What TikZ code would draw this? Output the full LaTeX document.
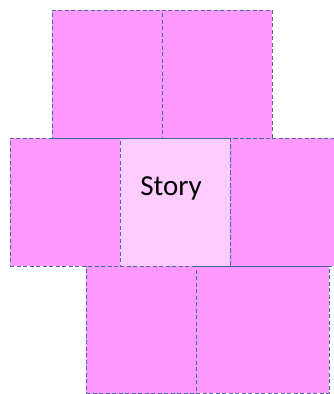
\documentclass[tikz,border=0pt]{standalone}
\usepackage{fontspec}
\setmainfont{Carlito}
\definecolor{pinkA}{HTML}{FF99FF}
\definecolor{pinkB}{HTML}{FFCCFF}
\definecolor{edgeC}{HTML}{4A6A9A}
\begin{document}
\begin{tikzpicture}[x=1pt,y=-1pt,
  cell/.style={rectangle,fill=pinkA,draw=edgeC,line width=0.9pt,dash pattern=on 4pt off 2.5pt,
    inner sep=0pt,outer sep=0pt,minimum width=110pt,minimum height=128pt},
  storycell/.style={cell,fill=pinkB}]
\useasboundingbox (0,0) rectangle (334,394);
\begin{scope}
\clip (0,0) rectangle (334,394);
% bottom row
\node[cell] (b1) at (141,329.5) {};
\node[cell,minimum width=133pt,minimum height=127pt] (b2) at (262.5,329.5) {};
% middle row
\node[cell] (m1) at (65,202) {};
\node[cell,minimum width=115pt] (m3) at (287.5,202) {};
\node[storycell] (m2) at (175,202) {};
% top row
\node[cell] (t1) at (107,74) {};
\node[cell] (t2) at (217,74) {};
\end{scope}
\node[font=\fontsize{29}{33}\selectfont, anchor=base] (story) at (171,195) {Story};
\end{tikzpicture}
\end{document}
